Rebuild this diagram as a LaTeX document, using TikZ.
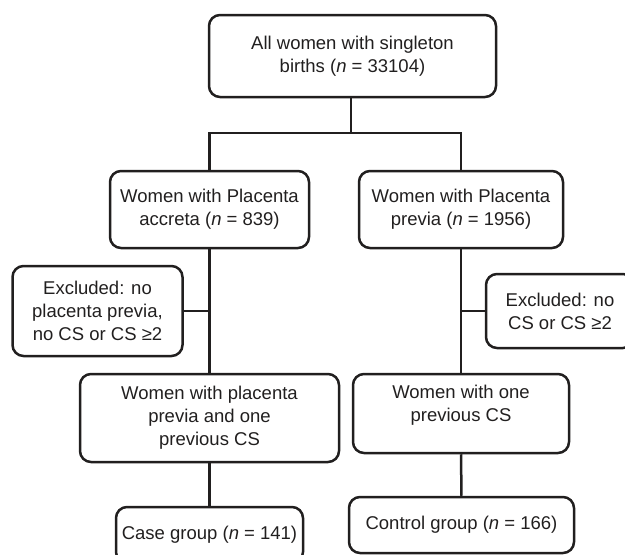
\documentclass[tikz,border=0pt]{standalone}
\usepackage{fontspec}
\setmainfont{Liberation Sans}
\definecolor{ink}{rgb}{0.13,0.12,0.12}
\begin{document}
\begin{tikzpicture}[x=1pt,y=-1pt,
  box/.style={draw=ink, line width=2.5pt, rounded corners=11pt, align=center,
    text=ink, inner sep=0pt, font=\fontsize{18.5}{23}\selectfont},
  link/.style={draw=ink, line width=2.5pt}]
\useasboundingbox (0,0) rectangle (625,555);
\node[box, minimum width=287pt, minimum height=82pt] (top) at (352.5,56)
  {All women with singleton\\births (\textit{n} = 33104)};
\node[box, minimum width=199pt, minimum height=77pt] (acc) at (209.5,209.5)
  {Women with Placenta\\accreta (\textit{n} = 839)};
\node[box, minimum width=204pt, minimum height=77pt] (prev) at (461,209.5)
  {Women with Placenta\\previa (\textit{n} = 1956)};
\node[box, minimum width=170pt, minimum height=90pt] (exL) at (97.5,311)
  {Excluded: no\\placenta previa,\\no CS or CS ≥2};
\node[box, minimum width=148pt, minimum height=74pt] (exR) at (560,311)
  {Excluded: no\\CS or CS ≥2};
\node[box, minimum width=259pt, minimum height=88pt] (midL) at (209.5,418)
  {Women with placenta\\previa and one\\previous CS};
\node[box, minimum width=216pt, minimum height=79pt] (midR) at (461,413.5)
  {Women with one\\previous CS\\[-10pt]\strut};
\node[box, minimum width=187pt, minimum height=56pt] (case) at (209.5,535)
  {Case group (\textit{n} = 141)};
\node[box, minimum width=225pt, minimum height=56pt] (ctrl) at (461.5,525)
  {Control group (\textit{n} = 166)};
\coordinate (j) at (351,133);
\draw[link] (top.south -| j) -- (j);
\draw[link] (acc.north) -- (acc.north |- j) -- (prev.north |- j) -- (prev.north);
\draw[link] (acc.south) -- (midL.north);
\draw[link] (exL.east) -- (exL.east -| acc.south);
\draw[link] (prev.south) -- (midR.north);
\draw[link] (exR.west) -- (exR.west -| prev.south);
\draw[link] (midL.south) -- (case.north);
\draw[link] (midR.south) -- (ctrl.north);
\end{tikzpicture}
\end{document}
